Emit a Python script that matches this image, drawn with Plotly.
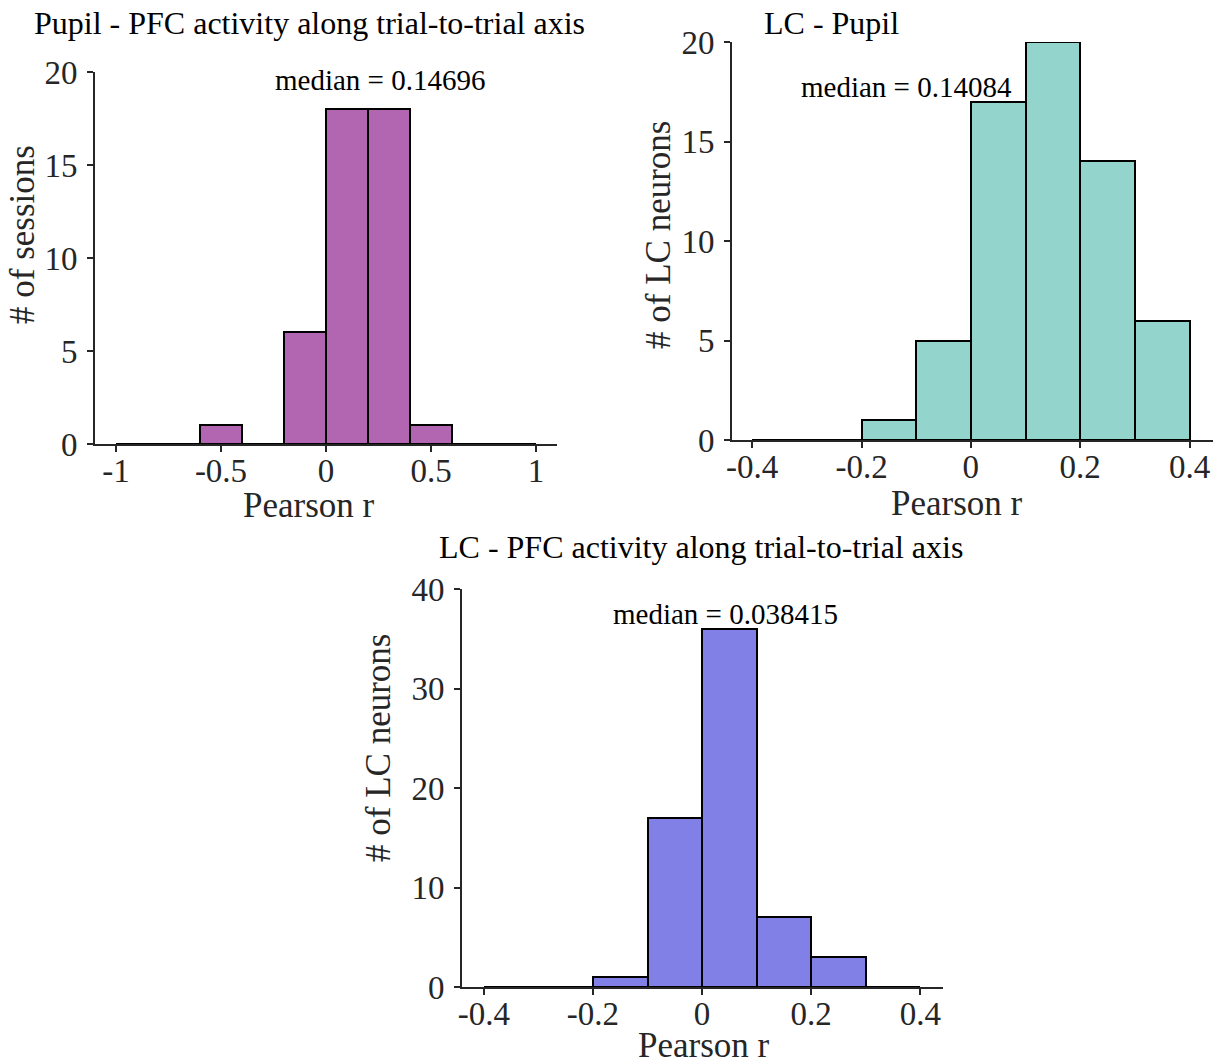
import plotly.graph_objects as go

FONT = "Liberation Serif"

# Panel 1: Pupil - PFC
p1_edges = [-1.0, -0.8, -0.6, -0.4, -0.2, 0.0, 0.2, 0.4, 0.6, 0.8, 1.0]
p1_counts = [0, 0, 1, 0, 6, 18, 18, 1, 0, 0]
p1_median = 0.14696

# Panel 2: LC - Pupil
p2_edges = [-0.4, -0.3, -0.2, -0.1, 0.0, 0.1, 0.2, 0.3, 0.4]
p2_counts = [0, 0, 1, 5, 17, 20, 14, 6]
p2_median = 0.14084

# Panel 3: LC - PFC
p3_edges = [-0.4, -0.3, -0.2, -0.1, 0.0, 0.1, 0.2, 0.3, 0.4]
p3_counts = [0, 0, 1, 17, 36, 7, 3, 0]
p3_median = 0.038415

titles = ["Pupil - PFC activity along trial-to-trial axis", "LC - Pupil",
          "LC - PFC activity along trial-to-trial axis"]
xlabel = "Pearson r"
ylabels = ["# of sessions", "# of LC neurons", "# of LC neurons"]
colors = ["#B266B2", "#93D5CD", "#8080E6"]

W, H = 1225, 1064
AX = "#262626"


def px2x(p):
    return p / W


def px2y(p):
    return 1 - p / H


fig = go.Figure()

panels = [
    dict(edges=p1_edges, counts=p1_counts, median=p1_median,
         xd=[95, 557], yd=[444, 72], xr=[-1.1, 1.1], yr=[0, 20],
         xt=[-1, -0.5, 0, 0.5, 1], xtt=["-1", "-0.5", "0", "0.5", "1"],
         yt=[0, 5, 10, 15, 20], ann=(380, 80), title_xy=(309, 23),
         xl=(309, 505), yl=(23, 235)),
    dict(edges=p2_edges, counts=p2_counts, median=p2_median,
         xd=[732, 1213], yd=[440, 42], xr=[-0.437, 0.443], yr=[0, 20],
         xt=[-0.4, -0.2, 0, 0.2, 0.4], xtt=["-0.4", "-0.2", "0", "0.2", "0.4"],
         yt=[0, 5, 10, 15, 20], ann=(906, 87), title_xy=(831, 23),
         xl=(957, 503), yl=(659, 235)),
    dict(edges=p3_edges, counts=p3_counts, median=p3_median,
         xd=[462, 943], yd=[987, 589], xr=[-0.44, 0.4416], yr=[0, 40],
         xt=[-0.4, -0.2, 0, 0.2, 0.4], xtt=["-0.4", "-0.2", "0", "0.2", "0.4"],
         yt=[0, 10, 20, 30, 40], ann=(725, 614), title_xy=(701, 547),
         xl=(704, 1045), yl=(378, 748)),
]

layout = {}
annotations = []
for i, p in enumerate(panels):
    k = "" if i == 0 else str(i + 1)
    edges = p["edges"]
    centers = [(edges[j] + edges[j + 1]) / 2 for j in range(len(edges) - 1)]
    widths = [edges[j + 1] - edges[j] for j in range(len(edges) - 1)]
    fig.add_trace(go.Bar(
        x=centers, y=p["counts"], width=widths,
        marker=dict(color=colors[i], line=dict(color="black", width=2)),
        xaxis="x" + k, yaxis="y" + k, showlegend=False,
    ))
    layout["xaxis" + k] = dict(
        domain=[px2x(p["xd"][0]), px2x(p["xd"][1])], range=p["xr"],
        anchor="y" + k, showline=True, linecolor=AX, linewidth=2,
        ticks="outside", ticklen=6, tickwidth=2, tickcolor=AX,
        tickvals=p["xt"], ticktext=p["xtt"], showgrid=False, zeroline=False,
        automargin=False, ticklabelstandoff=-10,
        tickfont=dict(family=FONT, size=33, color=AX),
    )
    layout["yaxis" + k] = dict(
        domain=[px2y(p["yd"][0]), px2y(p["yd"][1])], range=p["yr"],
        anchor="x" + k, showline=True, linecolor=AX, linewidth=2,
        ticks="outside", ticklen=6, tickwidth=2, tickcolor=AX,
        tickvals=p["yt"], showgrid=False, zeroline=False,
        automargin=False, ticklabelstandoff=3,
        tickfont=dict(family=FONT, size=33, color=AX),
    )
    annotations.append(dict(
        x=px2x(p["ann"][0]), y=px2y(p["ann"][1]), xref="paper", yref="paper",
        text="median = " + str(p["median"]), showarrow=False,
        font=dict(family=FONT, size=29, color="black"), xanchor="center", yanchor="middle",
    ))
    annotations.append(dict(
        x=px2x(p["title_xy"][0]), y=px2y(p["title_xy"][1]), xref="paper", yref="paper",
        text=titles[i], showarrow=False, borderpad=0,
        font=dict(family=FONT, size=32, color="black"), xanchor="center", yanchor="middle",
    ))
    annotations.append(dict(
        x=px2x(p["xl"][0]), y=px2y(p["xl"][1]), xref="paper", yref="paper",
        text=xlabel, showarrow=False, borderpad=0,
        font=dict(family=FONT, size=35, color=AX), xanchor="center", yanchor="middle",
    ))
    annotations.append(dict(
        x=px2x(p["yl"][0]), y=px2y(p["yl"][1]), xref="paper", yref="paper",
        text=ylabels[i], showarrow=False, textangle=-90, borderpad=0,
        font=dict(family=FONT, size=35, color=AX), xanchor="center", yanchor="middle",
    ))

fig.update_layout(
    width=W, height=H, margin=dict(l=0, r=0, t=0, b=0, autoexpand=False),
    paper_bgcolor="white", plot_bgcolor="white", bargap=0,
    annotations=annotations, **layout,
)

fig.write_html("out.html", config={"displayModeBar": False},
               post_script="document.body.style.margin='0px';")
